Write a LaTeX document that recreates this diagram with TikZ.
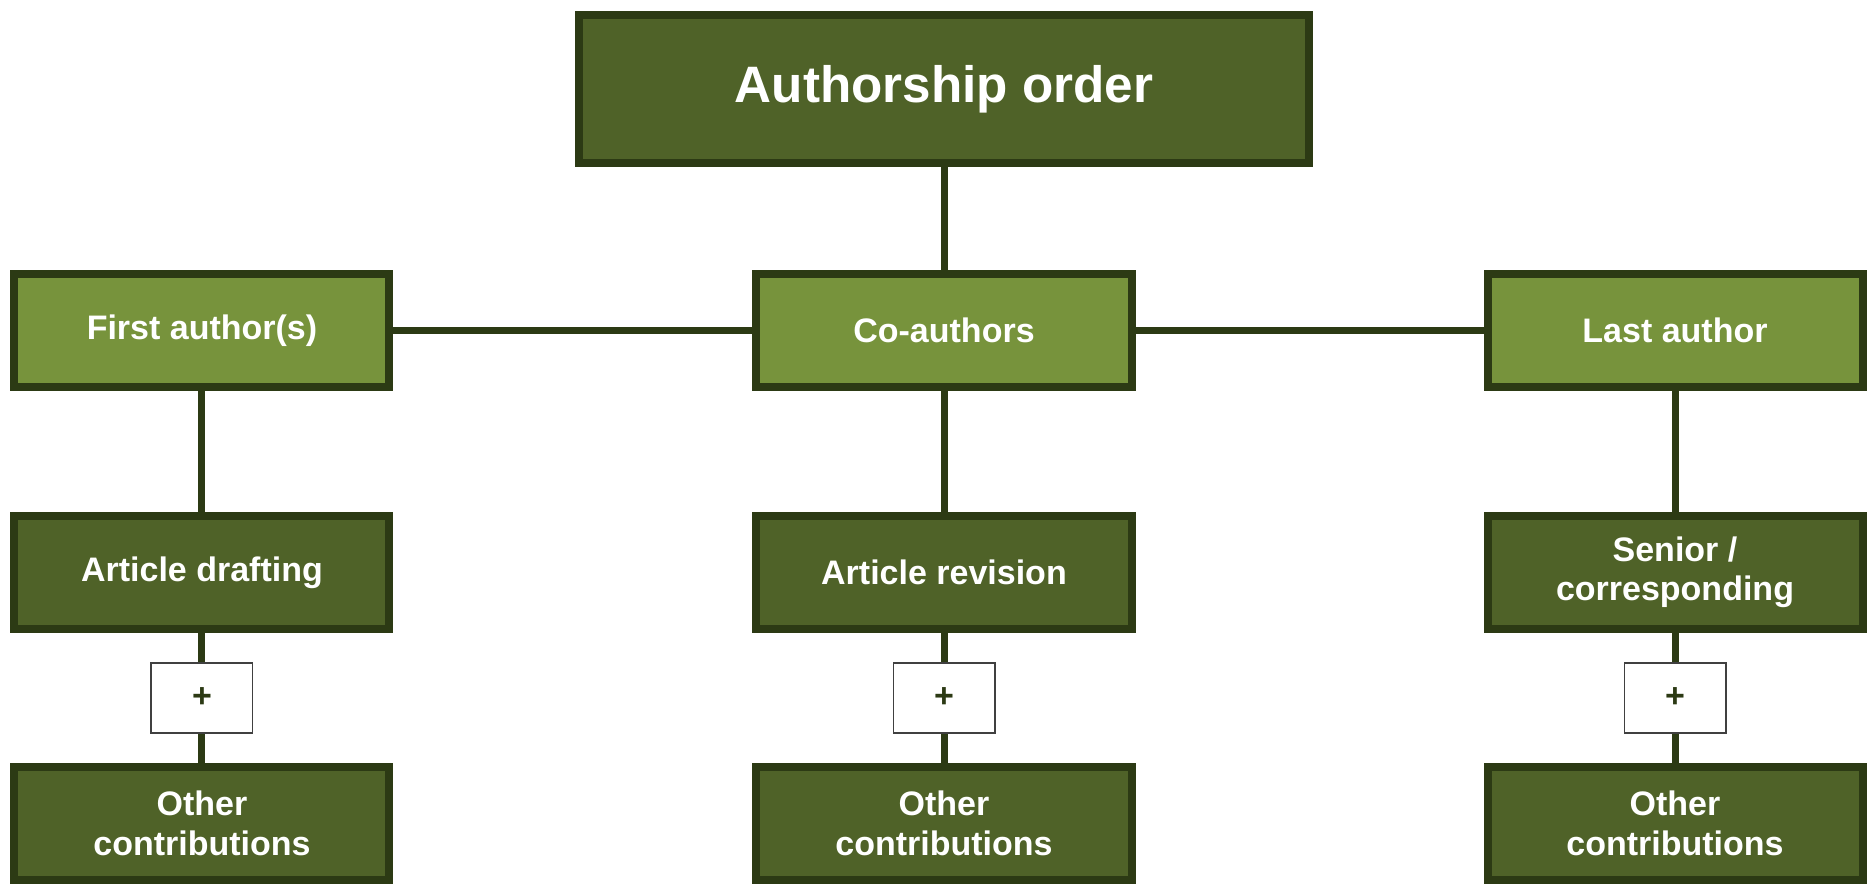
\documentclass[tikz,border=0pt]{standalone}
\usepackage{fontspec}
\setmainfont{Liberation Sans}
\usetikzlibrary{positioning}
\definecolor{morkgronn}{HTML}{4F6228}
\definecolor{lysgronn}{HTML}{77933C}
\definecolor{kant}{HTML}{2C3A14}

\begin{document}
\begin{tikzpicture}[
    node distance = 60.5pt and 179.5pt,
    boks/.style = {rectangle, draw=kant, line width=4pt, text=white,
      minimum width=187.5pt, minimum height=56.5pt, align=center,
      font=\fontsize{17}{19.7}\selectfont\bfseries},
    tittel/.style = {boks, fill=morkgronn, minimum width=364.5pt,
      minimum height=74pt, font=\fontsize{25.6}{30}\selectfont\bfseries},
    rolle/.style = {boks, fill=lysgronn},
    oppgave/.style = {boks, fill=morkgronn},
    pluss/.style = {rectangle, draw=black!75, line width=0.8pt, fill=white,
      text=kant, minimum width=50.7pt, minimum height=35.2pt,
      font=\fontsize{17}{20}\selectfont\bfseries},
    strek/.style = {kant, line width=3.5pt}
    ]

  \useasboundingbox (-472pt,44.5pt) rectangle (464.5pt,-397.5pt);

  \node[tittel] (orden) {Authorship order} ;

  \node[rolle] (medf) [below=51.5pt of orden] {Co-authors} ;
  \node[rolle] (forste) [left=179.5pt of medf] {First author(s)} ;
  \node[rolle] (sist) [right=174pt of medf] {Last author} ;

  \node[oppgave] (utkast) [below=of forste] {Article drafting} ;
  \node[oppgave] (revisjon) [below=of medf] {Article revision} ;
  \node[oppgave] (senior) [below=of sist] {Senior /\\corresponding} ;

  \node[pluss] (p1) [below=14.5pt of utkast] {+} ;
  \node[pluss] (p2) [below=14.5pt of revisjon] {+} ;
  \node[pluss] (p3) [below=14.5pt of senior] {+} ;

  \node[oppgave] (andre1) [below=14.5pt of p1] {Other\\contributions} ;
  \node[oppgave] (andre2) [below=14.5pt of p2] {Other\\contributions} ;
  \node[oppgave] (andre3) [below=14.5pt of p3] {Other\\contributions} ;

  \draw[strek]
  (orden) edge (medf)
  (forste) edge (medf)
  (medf) edge (sist)

  (forste) edge (utkast)
  (medf) edge (revisjon)
  (sist) edge (senior)

  (utkast) edge (p1)
  (p1) edge (andre1)
  (revisjon) edge (p2)
  (p2) edge (andre2)
  (senior) edge (p3)
  (p3) edge (andre3);

\end{tikzpicture}
\end{document}
